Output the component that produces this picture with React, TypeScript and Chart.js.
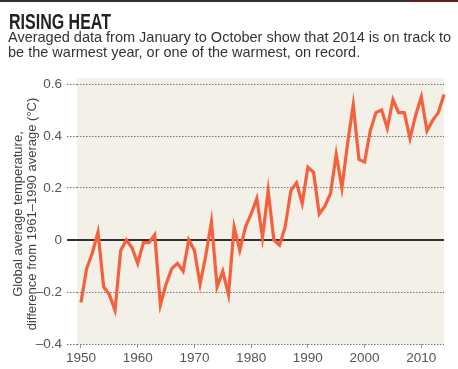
import React, { useEffect, useRef } from "react";
import { Chart, registerables } from "chart.js";

Chart.register(...registerables);

const titleText = "RISING HEAT";
const subtitleLines = [
  "Averaged data from January to October show that 2014 is on track to",
  "be the warmest year, or one of the warmest, on record.",
];
const yAxisTitle = [
  "Global average temperature,",
  "difference from 1961\u20131990 average (\u00b0C)",
];

const years = [
  1950, 1951, 1952, 1953, 1954, 1955, 1956, 1957, 1958, 1959,
  1960, 1961, 1962, 1963, 1964, 1965, 1966, 1967, 1968, 1969,
  1970, 1971, 1972, 1973, 1974, 1975, 1976, 1977, 1978, 1979,
  1980, 1981, 1982, 1983, 1984, 1985, 1986, 1987, 1988, 1989,
  1990, 1991, 1992, 1993, 1994, 1995, 1996, 1997, 1998, 1999,
  2000, 2001, 2002, 2003, 2004, 2005, 2006, 2007, 2008, 2009,
  2010, 2011, 2012, 2013, 2014,
];

const anomalies = [
  -0.24, -0.11, -0.05, 0.03, -0.18, -0.21, -0.27, -0.04, 0.0, -0.03,
  -0.09, -0.01, -0.01, 0.02, -0.25, -0.17, -0.11, -0.09, -0.12, 0.0,
  -0.04, -0.17, -0.06, 0.07, -0.18, -0.12, -0.21, 0.05, -0.04, 0.05,
  0.1, 0.16, 0.01, 0.19, 0.0, -0.02, 0.05, 0.19, 0.22, 0.14,
  0.28, 0.26, 0.1, 0.13, 0.18, 0.33, 0.2, 0.37, 0.52, 0.31,
  0.3, 0.42, 0.49, 0.5, 0.43, 0.54, 0.49, 0.49, 0.39, 0.48,
  0.55, 0.42, 0.46, 0.49, 0.56,
];

const xTickValues = [1950, 1960, 1970, 1980, 1990, 2000, 2010];
const yTickValues = [-0.4, -0.2, 0, 0.2, 0.4, 0.6];

const LINE_COLOR = "#f5603d";
const PANEL_COLOR = "#f3f0e8";
const TITLE_WIDTH = 102;

const panelPlugin = {
  id: "panel",
  beforeDraw(chart: any) {
    const { ctx, chartArea } = chart;
    ctx.save();
    ctx.fillStyle = PANEL_COLOR;
    ctx.fillRect(
      chartArea.left,
      chartArea.top - 6,
      chartArea.right - chartArea.left,
      chartArea.bottom - chartArea.top + 6
    );
    ctx.restore();
  },
};

function fmtY(v: number): string {
  if (Math.abs(v) < 1e-9) return "0";
  const s = Math.abs(v).toFixed(1);
  return v < 0 ? "\u2013" + s : s;
}

const isZero = (c: any) => c.tick && Math.abs(c.tick.value) < 1e-9;

export default function App() {
  const ref = useRef<HTMLCanvasElement | null>(null);
  const titleRef = useRef<HTMLSpanElement | null>(null);

  useEffect(() => {
    if (titleRef.current) {
      const w = titleRef.current.getBoundingClientRect().width;
      if (w > 0) titleRef.current.style.transform = `scaleX(${TITLE_WIDTH / w})`;
    }
    if (!ref.current) return;
    const chart = new Chart(ref.current, {
      type: "line",
      data: {
        datasets: [
          {
            data: years.map((y, i) => ({ x: y, y: anomalies[i] })),
            borderColor: LINE_COLOR,
            borderWidth: 3.2,
            pointRadius: 0,
            tension: 0,
            fill: false,
            clip: 4,
          },
        ],
      },
      options: {
        animation: false,
        responsive: false,
        maintainAspectRatio: false,
        layout: { padding: { top: 84, right: 14, left: 0, bottom: 0 } },
        plugins: {
          legend: { display: false },
          tooltip: { enabled: false },
        },
        scales: {
          x: {
            type: "linear",
            min: 1949.3,
            max: 2014,
            afterBuildTicks: (s: any) => {
              s.ticks = xTickValues.map((v) => ({ value: v }));
            },
            afterFit: (s: any) => {
              s.height = 25;
            },
            ticks: {
              color: "#555",
              font: { family: "'Liberation Sans', Arial, sans-serif", size: 13.5 },
              padding: 2,
              maxRotation: 0,
              autoSkip: false,
              callback: (v: any) => String(v),
            },
            grid: {
              drawOnChartArea: false,
              drawTicks: true,
              tickLength: 4,
              tickColor: "#999",
            },
            border: { display: false },
          },
          y: {
            min: -0.4,
            max: 0.6,
            afterBuildTicks: (s: any) => {
              s.ticks = yTickValues.map((v) => ({ value: v }));
            },
            afterFit: (s: any) => {
              s.width = 77;
            },
            ticks: {
              color: "#555",
              font: { family: "'Liberation Sans', Arial, sans-serif", size: 13.5 },
              padding: 5,
              callback: (v: any) => fmtY(Number(v)),
            },
            grid: {
              drawTicks: true,
              tickLength: 10,
              color: (c: any) => (isZero(c) ? "#333" : "#777"),
              tickColor: (c: any) => (isZero(c) ? "#333" : "#777"),
              lineWidth: (c: any) => (isZero(c) ? 2 : 1),
              tickWidth: (c: any) => (isZero(c) ? 2 : 1),
              tickBorderDash: (c: any) => (isZero(c) ? [] : [1.5, 1.5]),
            },
            border: {
              display: false,
              dash: (c: any) => (isZero(c) ? [] : [1.5, 1.5]),
            },
            title: {
              display: true,
              text: yAxisTitle,
              color: "#444",
              font: { family: "'Liberation Sans', Arial, sans-serif", size: 13, lineHeight: 1.1 },
              padding: { top: 11, bottom: 0 },
            },
          },
        },
      },
      plugins: [panelPlugin],
    } as any);
    return () => chart.destroy();
  }, []);

  return (
    <div
      style={{
        position: "absolute",
        left: 0,
        top: 0,
        width: 458,
        height: 369,
        background: "#fff",
        overflow: "hidden",
      }}
    >
      <div style={{ position: "absolute", left: 0, top: 0, width: 410, height: 2, background: "#333" }} />
      <div style={{ position: "absolute", left: 410, top: 0, width: 48, height: 2, background: "#5a2418" }} />
      <canvas
        ref={ref}
        width={458}
        height={369}
        style={{ position: "absolute", left: 0, top: 0, width: 458, height: 369 }}
      />
      <div
        style={{
          position: "absolute",
          left: 9,
          top: 11,
          fontFamily: "'Liberation Sans', Arial, sans-serif",
          fontWeight: 700,
          fontSize: 22,
          lineHeight: "22px",
          color: "#222",
          whiteSpace: "nowrap",
        }}
      >
        <span ref={titleRef} style={{ display: "inline-block", transformOrigin: "0 0" }}>
          {titleText}
        </span>
      </div>
      <div
        style={{
          position: "absolute",
          left: 8,
          top: 30,
          fontFamily: "'Liberation Sans', Arial, sans-serif",
          fontSize: 14.5,
          lineHeight: "15px",
          color: "#333",
          whiteSpace: "nowrap",
        }}
      >
        {subtitleLines.map((l, i) => (
          <div key={i}>{l}</div>
        ))}
      </div>
    </div>
  );
}
